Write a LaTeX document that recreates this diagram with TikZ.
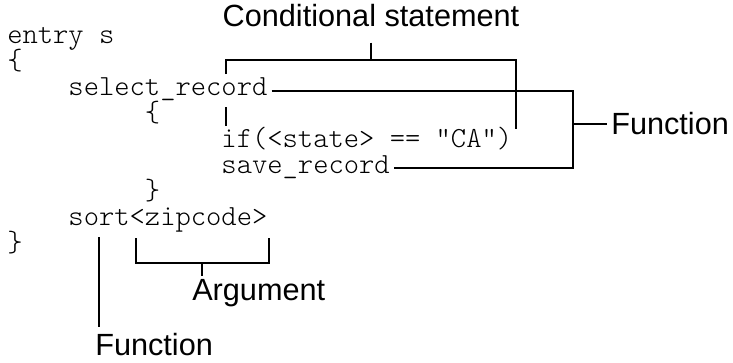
\documentclass[tikz,border=0pt]{standalone}
\usepackage{fontspec}
\setsansfont{Liberation Sans}
\usetikzlibrary{calc}
\newcommand\codefnt{\fontseries{l}\ttfamily\fontsize{21.86}{26}\selectfont}
\newcommand\labfnt{\sffamily\fontsize{23}{27}\selectfont}
\begin{document}
\begin{tikzpicture}[x=0.75pt,y=-0.75pt,
  code/.style={anchor=base west,inner sep=0pt,font=\codefnt},
  lab/.style={inner sep=0pt,font=\labfnt},
  conn/.style={line width=1.2pt}]
\useasboundingbox (0,0) rectangle (733,362);
% code lines
\node[code] (entry) at (7,43) {entry s};
\node[code] (ob1) at (7,69) {\{};
\node[code] (sel) at (68.2,95) {select\_record};
\node[code] (ob2) at (144.7,121) {\{};
\node[code] (cond) at (221.2,147) {if(<state> == \textquotedbl CA\textquotedbl)};
\node[code] (save) at (221.2,173) {save\_record};
\node[code] (cb2) at (144.7,199) {\}};
\node[code] (sort) at (68.2,225) {sort<zipcode>};
\node[code] (cb1) at (7,251) {\}};
% labels
\node[lab] (condlab) at (371,16) {Conditional statement};
\node[lab,anchor=west] (fun1) at (611,124) {Function};
\node[lab,anchor=west] (arg) at (192,293) {Argument};
\node[lab,anchor=west] (fun2) at (95,345) {Function};
% conditional bracket
\coordinate (cTL) at (226,60);
\coordinate (cTR) at (516,60);
\coordinate (cMid) at (371,60);
\coordinate (cL1) at (226,74);
\coordinate (cL2) at (226,107);
\draw[conn] ([yshift=-11.25pt]condlab.south) -- (cMid);
\draw[conn] (cL1) -- (cTL) -- (cTR) -- ($(cTR |- cond.north)+(0,3)$);
\draw[conn] (cL2) -- (cL2 |- cond.north);
% function bracket (right)
\coordinate (fT) at (573,91);
\coordinate (fB) at (573,168);
\coordinate (fM) at (573,124);
\draw[conn] ([shift={(4,-4)}]sel.base east) -- (fT) -- (fB) -- ([shift={(4,-5)}]save.base east);
\draw[conn] (fM) -- ([xshift=-3pt]fun1.west);
% argument bracket
\coordinate (aL) at (136,238);
\coordinate (aR) at (269,238);
\coordinate (aM) at (202,263);
\draw[conn] (aL) -- (aL |- aM) -- (aR |- aM) -- (aR);
\draw[conn] (aM) -- ($(aM |- arg.north)+(0,-3)$);
% function (bottom)
\coordinate (sT) at (99,237);
\draw[conn] (sT) -- ($(sT |- fun2.north)+(0,-6)$);
\end{tikzpicture}
\end{document}
